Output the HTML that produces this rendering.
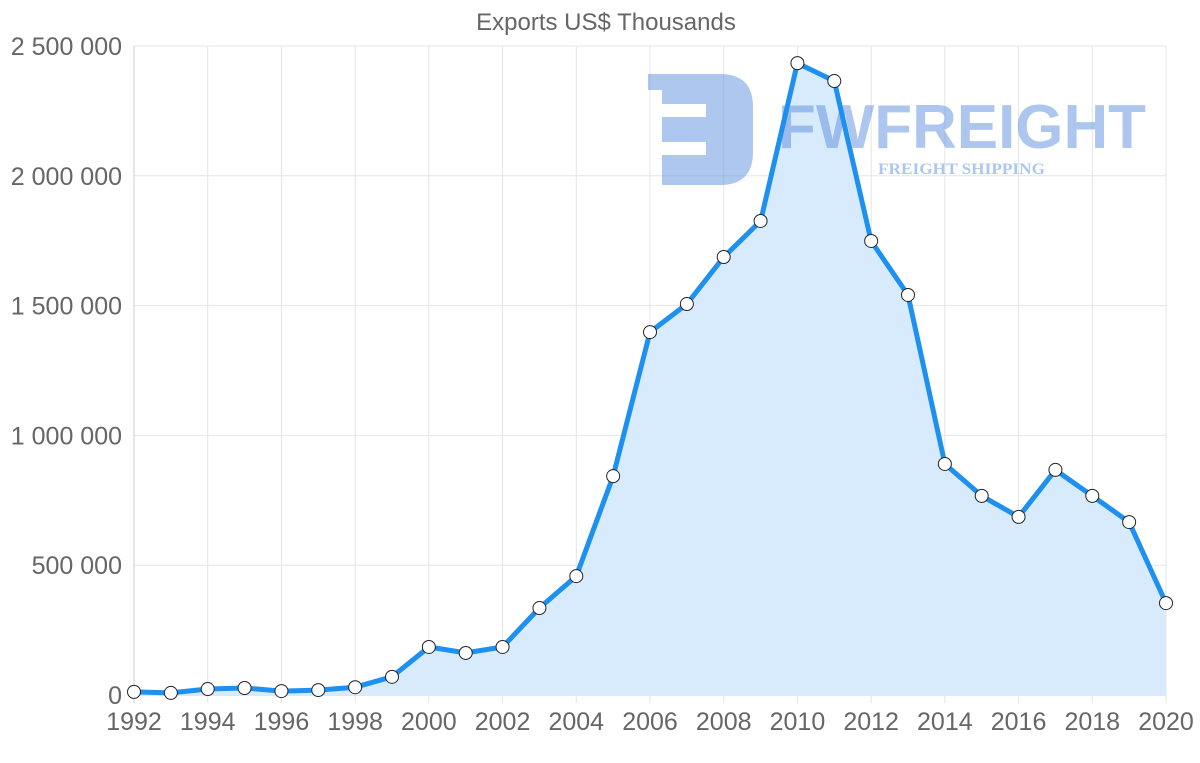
<!DOCTYPE html>
<html><head><meta charset="utf-8"><style>
body{margin:0;background:#fff;}
svg{display:block;font-family:"Liberation Sans",sans-serif;}
</style></head><body>
<svg id="chart" width="1200" height="763">
<text x="606" y="30" text-anchor="middle" font-size="24" fill="#666">Exports US$ Thousands</text>
<g id="grid"></g>
<g id="area-g"></g>
<g opacity="0.5">
<path d="M648 74 H720 Q753 74 753 107 V152 Q753 185 720 185 H662 V155 H706 V142 H662 V117 H706 V104 H662 V90 H648 Z" fill="#5b8fe0"/>
<text x="778" y="148" font-size="62" font-weight="bold" fill="#5b8fe0" textLength="368" lengthAdjust="spacingAndGlyphs">FWFREIGHT</text>
<text x="878" y="174" font-size="16" font-weight="bold" font-family="Liberation Serif,serif" fill="#5b8fe0" textLength="167" lengthAdjust="spacingAndGlyphs">FREIGHT SHIPPING</text>
</g>
<g id="line-g"></g>
<g id="axes"></g>
</svg>
<script>
const years=[1992,1993,1994,1995,1996,1997,1998,1999,2000,2001,2002,2003,2004,2005,2006,2007,2008,2009,2010,2011,2012,2013,2014,2015,2016,2017,2018,2019,2020];
const exportsValues=[12000,8000,23000,27000,15000,19000,30000,70000,185000,162000,185000,335000,458000,843000,1398000,1506000,1687000,1826000,2434000,2365000,1749000,1541000,890000,767000,686000,867000,767000,666000,354000];
const yTicks=[0,500000,1000000,1500000,2000000,2500000];
const yTickLabels=["0","500 000","1 000 000","1 500 000","2 000 000","2 500 000"];
const xTickYears=[1992,1994,1996,1998,2000,2002,2004,2006,2008,2010,2012,2014,2016,2018,2020];
const NS="http://www.w3.org/2000/svg";
const x0=134,x1=1166,y0=695,y1=46;
const xs=y=>x0+(y-1992)/(2020-1992)*(x1-x0);
const ys=v=>y0-v/2500000*(y0-y1);
function mk(tag,attrs,parent){const e=document.createElementNS(NS,tag);for(const k in attrs)e.setAttribute(k,attrs[k]);parent.appendChild(e);return e;}
const grid=document.getElementById('grid'),axes=document.getElementById('axes');
yTicks.forEach((t,i)=>{
 const l=mk('line',{x1:x0,x2:x1,y1:ys(t),y2:ys(t),stroke:t===0?'#ccc':'#e5e5e5','stroke-width':1},grid);
 
 
 const tx=mk('text',{x:122,y:ys(t)+9,'text-anchor':'end','font-size':25,fill:'#666'},axes);
 tx.textContent=yTickLabels[i];
 
 
});
xTickYears.forEach(yr=>{
 const l=mk('line',{x1:xs(yr),x2:xs(yr),y1:y1,y2:y0+8,stroke:yr===1992?'#ccc':'#e5e5e5','stroke-width':1},grid);
 
 
 const tx=mk('text',{x:xs(yr),y:730,'text-anchor':'middle','font-size':25,fill:'#666'},axes);
 tx.textContent=yr;
 
 
});
const pts=years.map((y,i)=>[xs(y),ys(exportsValues[i])]);
const d=pts.map((p,i)=>(i?'L':'M')+p[0].toFixed(1)+' '+p[1].toFixed(1)).join(' ');
const area=mk('path',{d:d+` L${x1} ${y0} L${x0} ${y0} Z`,fill:'#d8ebfc'},document.getElementById('area-g'));


const lg=document.getElementById('line-g');
const line=mk('path',{d:d,fill:'none',stroke:'#1e90f0','stroke-width':5,'stroke-linejoin':'round'},lg);


pts.forEach(p=>{
 const c=mk('circle',{cx:p[0],cy:p[1],r:6.5,fill:'#fff',stroke:'#222','stroke-width':1},lg);
 
 
});
</script>
</body></html>
